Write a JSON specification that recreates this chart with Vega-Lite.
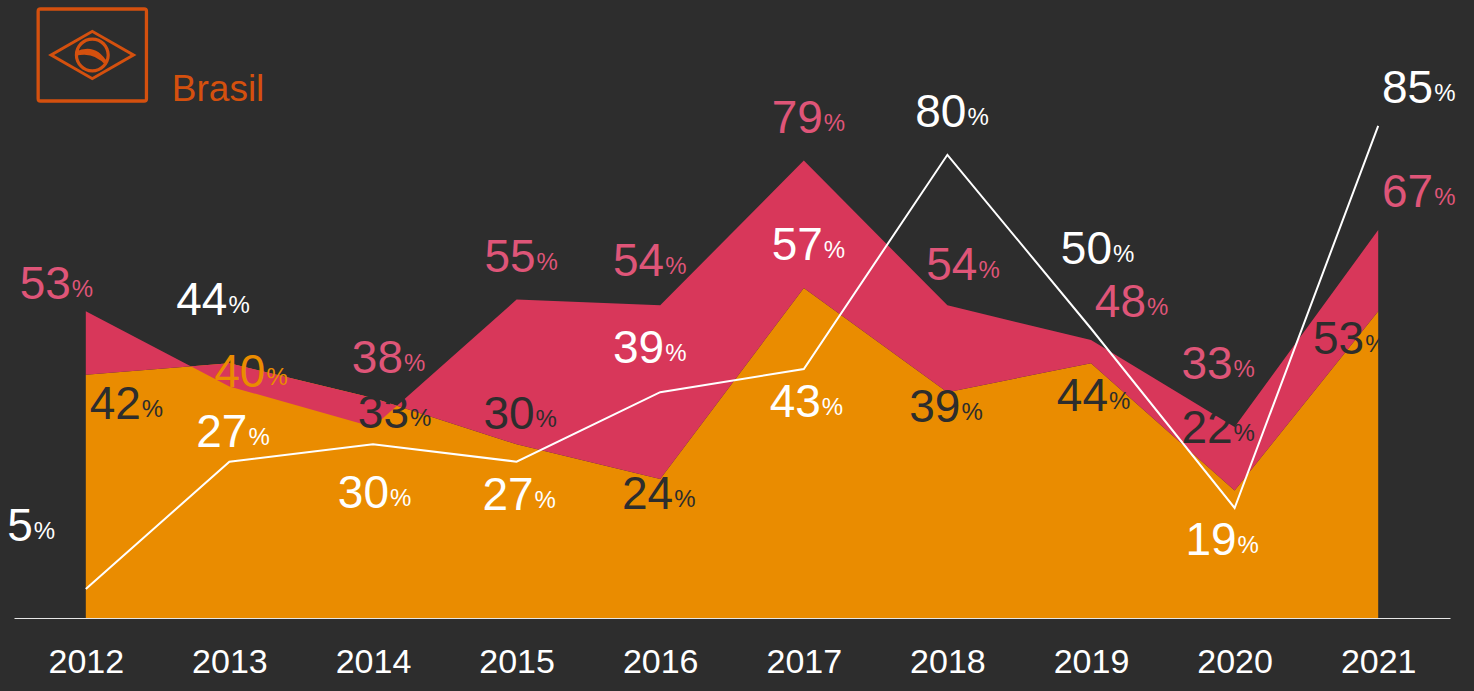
{
  "$schema": "https://vega.github.io/schema/vega-lite/v6.json",
  "width": 1436,
  "height": 579,
  "autosize": {"type": "none"},
  "padding": {"left": 14, "top": 39, "right": 24, "bottom": 73},
  "background": "#2d2d2d",
  "config": {"view": {"stroke": null}, "font": "Liberation Sans"},
  "params": [
    {"name": "offX", "value": {"n": 17, "nr": 28, "nl": 2, "s": 15, "ss": 14, "sm": 11, "e": 16, "nn": -4, "ne": 53, "se": 53, "w": -17, "wn": -55, "er": 34, "nnn": 19, "sw": -16, "sl": 0}},
    {"name": "offY", "value": {"n": -28, "nr": -25, "nl": -29, "s": 48, "ss": 64, "sm": 30, "e": -15, "nn": -48, "ne": -23, "se": 44, "w": -12, "wn": -48, "er": 1, "nnn": -65, "sw": 43, "sl": 47}}
  ],
  "datasets": {
    "series": [
      {"ano": "2012", "a": 53, "b": 42, "linha": 5},
      {"ano": "2013", "a": 40, "b": 44, "linha": 27},
      {"ano": "2014", "a": 33, "b": 38, "linha": 30},
      {"ano": "2015", "a": 55, "b": 30, "linha": 27},
      {"ano": "2016", "a": 54, "b": 24, "linha": 39},
      {"ano": "2017", "a": 79, "b": 57, "linha": 43},
      {"ano": "2018", "a": 54, "b": 39, "linha": 80},
      {"ano": "2019", "a": 48, "b": 44, "linha": 50},
      {"ano": "2020", "a": 33, "b": 22, "linha": 19},
      {"ano": "2021", "a": 67, "b": 53, "linha": 85}
    ],
    "labels": [
      {"ano": "2012", "serie": "a", "valor": 53, "place": "w", "tone": "rosa"},
      {"ano": "2012", "serie": "b", "valor": 42, "place": "se", "tone": "escuro"},
      {"ano": "2012", "serie": "linha", "valor": 5, "place": "wn", "tone": "branco"},
      {"ano": "2013", "serie": "b", "valor": 44, "place": "nn", "tone": "branco"},
      {"ano": "2013", "serie": "a", "valor": 40, "place": "er", "tone": "laranja"},
      {"ano": "2013", "serie": "linha", "valor": 27, "place": "e", "tone": "branco"},
      {"ano": "2014", "serie": "b", "valor": 38, "place": "nr", "tone": "rosa"},
      {"ano": "2014", "serie": "a", "valor": 33, "place": "er", "tone": "escuro"},
      {"ano": "2014", "serie": "linha", "valor": 30, "place": "ss", "tone": "branco"},
      {"ano": "2015", "serie": "a", "valor": 55, "place": "n", "tone": "rosa"},
      {"ano": "2015", "serie": "b", "valor": 30, "place": "e", "tone": "escuro"},
      {"ano": "2015", "serie": "linha", "valor": 27, "place": "s", "tone": "branco"},
      {"ano": "2016", "serie": "a", "valor": 54, "place": "nl", "tone": "rosa"},
      {"ano": "2016", "serie": "b", "valor": 24, "place": "sm", "tone": "escuro"},
      {"ano": "2016", "serie": "linha", "valor": 39, "place": "nl", "tone": "branco"},
      {"ano": "2017", "serie": "a", "valor": 79, "place": "n", "tone": "rosa"},
      {"ano": "2017", "serie": "b", "valor": 57, "place": "n", "tone": "branco"},
      {"ano": "2017", "serie": "linha", "valor": 43, "place": "s", "tone": "branco"},
      {"ano": "2018", "serie": "a", "valor": 54, "place": "nr", "tone": "rosa"},
      {"ano": "2018", "serie": "b", "valor": 39, "place": "sm", "tone": "escuro"},
      {"ano": "2018", "serie": "linha", "valor": 80, "place": "n", "tone": "branco"},
      {"ano": "2019", "serie": "a", "valor": 48, "place": "ne", "tone": "rosa"},
      {"ano": "2019", "serie": "b", "valor": 44, "place": "s", "tone": "escuro"},
      {"ano": "2019", "serie": "linha", "valor": 50, "place": "nnn", "tone": "branco"},
      {"ano": "2020", "serie": "a", "valor": 33, "place": "nn", "tone": "rosa"},
      {"ano": "2020", "serie": "b", "valor": 22, "place": "nn", "tone": "escuro"},
      {"ano": "2020", "serie": "linha", "valor": 19, "place": "sl", "tone": "branco"},
      {"ano": "2021", "serie": "a", "valor": 67, "place": "ne", "tone": "rosa"},
      {"ano": "2021", "serie": "b", "valor": 53, "place": "sw", "tone": "escuro"},
      {"ano": "2021", "serie": "linha", "valor": 85, "place": "ne", "tone": "branco"}
    ]
  },
  "encoding": {
    "x": {
      "field": "ano",
      "type": "ordinal",
      "scale": {"type": "point", "padding": 0.5},
      "axis": {
        "title": null,
        "labelAngle": 0,
        "labelColor": "#ffffff",
        "labelFontSize": 34,
        "labelFont": "Liberation Sans",
        "ticks": false,
        "tickSize": 0,
        "labelPadding": 27,
        "domainColor": "#e6e6e6",
        "domainWidth": 1.2,
        "grid": false
      }
    }
  },
  "layer": [
    {
      "data": {"name": "series"},
      "mark": {"type": "area", "color": "#ea8c00", "opacity": 1},
      "encoding": {
        "y": {"field": "b", "type": "quantitative", "scale": {"domain": [0, 100], "nice": false}, "axis": null}
      }
    },
    {
      "data": {"name": "series"},
      "mark": {"type": "area", "color": "#d8375a", "opacity": 1},
      "encoding": {
        "y": {"field": "a", "type": "quantitative", "axis": null},
        "y2": {"field": "b"}
      }
    },
    {
      "data": {"name": "series"},
      "mark": {"type": "line", "color": "#ffffff", "strokeWidth": 2},
      "encoding": {
        "y": {"field": "linha", "type": "quantitative", "axis": null}
      }
    },
    {
      "data": {"name": "labels"},
      "mark": {
        "type": "text",
        "align": "right",
        "baseline": "alphabetic",
        "fontSize": 46,
        "font": "Liberation Sans",
        "dx": {"expr": "offX[datum.place] + 2"},
        "dy": {"expr": "offY[datum.place]"}
      },
      "encoding": {
        "y": {"field": "valor", "type": "quantitative", "axis": null},
        "text": {"field": "valor", "type": "quantitative"},
        "color": {
          "field": "tone",
          "type": "nominal",
          "legend": null,
          "scale": {"domain": ["rosa", "laranja", "escuro", "branco"], "range": ["#df5578", "#ea8c00", "#2d2d2d", "#ffffff"]}
        }
      }
    },
    {
      "data": {"name": "labels"},
      "mark": {
        "type": "text",
        "align": "left",
        "baseline": "alphabetic",
        "fontSize": 24,
        "font": "Liberation Sans",
        "text": "%",
        "dx": {"expr": "offX[datum.place] + 3"},
        "dy": {"expr": "offY[datum.place] - 2"}
      },
      "encoding": {
        "y": {"field": "valor", "type": "quantitative", "axis": null},
        "color": {"field": "tone", "type": "nominal", "legend": null}
      }
    },
    {
      "data": {"values": [{"nome": "Brasil"}]},
      "mark": {
        "type": "point",
        "shape": "M-45.3,-31.7H58.3Q62.3,-31.7 62.3,-27.7V59.7Q62.3,63.7 58.3,63.7H-45.3Q-49.3,63.7 -49.3,59.7V-27.7Q-49.3,-31.7 -45.3,-31.7Z M-46,-28.3V60.3H59V-28.3Z M-37.7,16L6.5,-9.35L50.7,16L6.5,41.35Z M-31.7,16L6.5,37.9L44.7,16L6.5,-5.9Z M-11,16A17.5,17.5 0 1,1 24,16A17.5,17.5 0 1,1 -11,16Z M-7.8,16A14.3,14.3 0 1,0 20.8,16A14.3,14.3 0 1,0 -7.8,16Z M-10.5,12.7Q10,3 22,24L20,26.5Q8,12 -10.5,17Z",
        "size": 4,
        "filled": true,
        "opacity": 1,
        "strokeWidth": 0,
        "color": "#d4500e"
      },
      "encoding": {
        "x": {"datum": "2012"},
        "y": {"datum": 100}
      }
    },
    {
      "data": {"values": [{"nome": "Brasil"}]},
      "mark": {
        "type": "text",
        "align": "left",
        "baseline": "alphabetic",
        "fontSize": 37,
        "font": "Liberation Sans",
        "color": "#d4500e",
        "dx": 86,
        "dy": 62
      },
      "encoding": {
        "x": {"datum": "2012"},
        "y": {"datum": 100},
        "text": {"field": "nome"}
      }
    }
  ]
}
